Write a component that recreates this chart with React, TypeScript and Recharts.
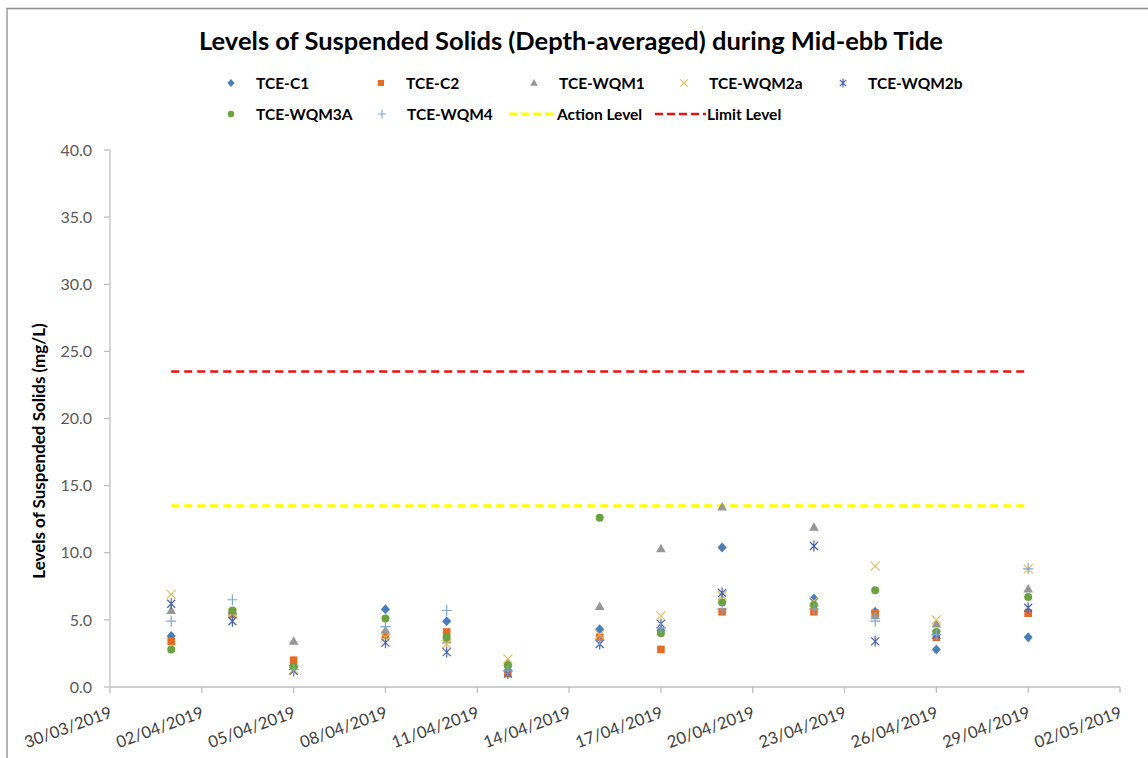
import React from 'react';
import { ScatterChart, Scatter, XAxis, YAxis, ReferenceLine } from 'recharts';

// sampling dates (dd/mm/yyyy)
const sampleDates = [
  '01/04/2019', '03/04/2019', '05/04/2019', '08/04/2019', '10/04/2019', '12/04/2019', '15/04/2019',
  '17/04/2019', '19/04/2019', '22/04/2019', '24/04/2019', '26/04/2019', '29/04/2019',
];

const tceC1 = [3.8, 5.5, 1.6, 5.8, 4.9, 1.2, 4.3, 4.2, 10.4, 6.6, 5.6, 2.8, 3.7];
const tceC2 = [3.4, 5.4, 2.0, 3.9, 4.1, 1.0, 3.7, 2.8, 5.6, 5.6, 5.5, 3.7, 5.5];
const tceWqm1 = [5.7, 5.6, 3.4, 4.2, 3.5, 1.8, 6.0, 10.3, 13.4, 11.9, 5.3, 4.7, 7.3];
const tceWqm2a = [6.9, 5.5, 1.3, 3.7, 3.2, 2.1, 3.9, 5.3, 6.8, 6.4, 9.0, 5.0, 8.8];
const tceWqm2b = [6.2, 4.9, 1.2, 3.3, 2.6, 1.0, 3.2, 4.7, 7.0, 10.5, 3.4, 3.9, 5.9];
const tceWqm3a = [2.8, 5.7, 1.5, 5.1, 3.7, 1.6, 12.6, 4.0, 6.3, 6.1, 7.2, 4.1, 6.7];
const tceWqm4 = [4.9, 6.5, 1.3, 4.5, 5.7, 1.2, 3.5, 4.4, 5.8, 5.8, 4.9, 3.9, 8.8];

const actionLevel = 13.5;
const limitLevel = 23.5;
const levelStart = '01/04/2019';
const levelEnd = '29/04/2019';

const xTickLabels = [
  '30/03/2019', '02/04/2019', '05/04/2019', '08/04/2019', '11/04/2019', '14/04/2019',
  '17/04/2019', '20/04/2019', '23/04/2019', '26/04/2019', '29/04/2019', '02/05/2019',
];
const yTicks = [0, 5, 10, 15, 20, 25, 30, 35, 40];

const FONT = 'Lato, "Open Sans", sans-serif';

const toDay = (s: string) => {
  const [d, m, y] = s.split('/').map(Number);
  return Date.UTC(y, m - 1, d) / 86400000;
};

const fmtDay = (n: number) => {
  const dt = new Date(Math.round(n) * 86400000);
  const dd = String(dt.getUTCDate()).padStart(2, '0');
  const mm = String(dt.getUTCMonth() + 1).padStart(2, '0');
  return `${dd}/${mm}/${dt.getUTCFullYear()}`;
};

type Kind = 'diamond' | 'square' | 'triangle' | 'x' | 'star' | 'circle' | 'plus';

function Marker({ kind, cx, cy, color, k = 1 }: { kind: Kind; cx: number; cy: number; color: string; k?: number }) {
  const p = (v: number) => v * k;
  switch (kind) {
    case 'diamond':
      return <path d={`M${cx},${cy - p(5)}L${cx + p(4.5)},${cy}L${cx},${cy + p(5)}L${cx - p(4.5)},${cy}Z`} fill={color} />;
    case 'square':
      return <rect x={cx - p(3.8)} y={cy - p(3.8)} width={p(7.6)} height={p(7.6)} fill={color} />;
    case 'triangle':
      return <path d={`M${cx},${cy - p(5)}L${cx + p(4.8)},${cy + p(3.5)}L${cx - p(4.8)},${cy + p(3.5)}Z`} fill={color} />;
    case 'circle':
      return <circle cx={cx} cy={cy} r={p(4)} fill={color} />;
    case 'x':
      return (
        <path d={`M${cx - p(4.5)},${cy - p(4.5)}L${cx + p(4.5)},${cy + p(4.5)}M${cx + p(4.5)},${cy - p(4.5)}L${cx - p(4.5)},${cy + p(4.5)}`}
          stroke={color} strokeWidth={1.2} fill="none" />
      );
    case 'star':
      return (
        <path d={`M${cx - p(4)},${cy - p(4)}L${cx + p(4)},${cy + p(4)}M${cx + p(4)},${cy - p(4)}L${cx - p(4)},${cy + p(4)}M${cx},${cy - p(5.5)}L${cx},${cy + p(5.5)}`}
          stroke={color} strokeWidth={1.2} fill="none" />
      );
    case 'plus':
      return (
        <path d={`M${cx - p(5)},${cy}L${cx + p(5)},${cy}M${cx},${cy - p(5.5)}L${cx},${cy + p(5.5)}`}
          stroke={color} strokeWidth={1.2} fill="none" />
      );
  }
  return null;
}

const series: { name: string; values: number[]; kind: Kind; color: string }[] = [
  { name: 'TCE-C1', values: tceC1, kind: 'diamond', color: '#4A7EBB' },
  { name: 'TCE-C2', values: tceC2, kind: 'square', color: '#E46C25' },
  { name: 'TCE-WQM1', values: tceWqm1, kind: 'triangle', color: '#969696' },
  { name: 'TCE-WQM2a', values: tceWqm2a, kind: 'x', color: '#E8BE5A' },
  { name: 'TCE-WQM2b', values: tceWqm2b, kind: 'star', color: '#4A62A8' },
  { name: 'TCE-WQM3A', values: tceWqm3a, kind: 'circle', color: '#6AA23E' },
  { name: 'TCE-WQM4', values: tceWqm4, kind: 'plus', color: '#7FA6D6' },
];

const XTick = (props: any) => {
  const { x, y, payload } = props;
  const ax = x + 3;
  const ay = y + 22;
  return (
    <text x={ax} y={ay} textAnchor="end" transform={`rotate(-20, ${ax}, ${ay})`}
      fontSize={16.5} fill="#404040" fontFamily={FONT}>
      {fmtDay(payload.value)}
    </text>
  );
};

// legend layout
const legendRow1X = [231, 381, 534, 684, 843];
const legendRow2X = [231, 382];
const LEG_TXT = { fontSize: 15.5, fontWeight: 'bold' as const, fontFamily: FONT, fill: '#000' };

export default function App() {
  const xDomain = [toDay(xTickLabels[0]), toDay(xTickLabels[xTickLabels.length - 1])];
  const xTicks = xTickLabels.map(toDay);
  const lx1 = toDay(levelStart);
  const lx2 = toDay(levelEnd);

  return (
    <div style={{ position: 'fixed', left: 0, top: 0, width: 1148, height: 758, background: '#fff', overflow: 'hidden' }}>
      <ScatterChart width={1148} height={758} margin={{ top: 150, right: 28, bottom: 11, left: 50 }}>
        <XAxis type="number" dataKey="x" domain={xDomain} ticks={xTicks} interval={0}
          height={60} tick={<XTick />} tickSize={6}
          axisLine={{ stroke: '#BFBFBF', strokeWidth: 1.3 }} tickLine={{ stroke: '#BFBFBF', strokeWidth: 1.3 }} />
        <YAxis type="number" dataKey="y" domain={[0, 40]} ticks={yTicks} interval={0} width={60}
          tickFormatter={(v: number) => v.toFixed(1)} tickSize={6} tickMargin={12}
          tick={{ fontSize: 16, fill: '#595959', fontFamily: FONT }}
          axisLine={{ stroke: '#BFBFBF', strokeWidth: 1.3 }} tickLine={{ stroke: '#BFBFBF', strokeWidth: 1.3 }} />
        <ReferenceLine segment={[{ x: lx1, y: actionLevel }, { x: lx2, y: actionLevel }]}
          stroke="#FFFF00" strokeWidth={3} strokeDasharray="8 5" />
        <ReferenceLine segment={[{ x: lx1, y: limitLevel }, { x: lx2, y: limitLevel }]}
          stroke="#EE1111" strokeWidth={2.5} strokeDasharray="8 5" />
        {series.map((s) => (
          <Scatter key={s.name} name={s.name}
            data={sampleDates.map((d, i) => ({ x: toDay(d), y: s.values[i] }))}
            isAnimationActive={false}
            shape={(p: any) => <Marker kind={s.kind} cx={p.cx} cy={p.cy} color={s.color} />} />
        ))}
      </ScatterChart>

      <svg width={1148} height={758} style={{ position: 'absolute', left: 0, top: 0, pointerEvents: 'none' }}>
        <path d="M7,758L7,8.5L1148,8.5" stroke="#8C8C8C" strokeWidth={1.3} fill="none" />
        <text x={571} y={50} textAnchor="middle" fontSize={25.5} fontWeight="bold" fontFamily={FONT} fill="#000">
          Levels of Suspended Solids (Depth-averaged) during Mid-ebb Tide
        </text>
        {series.slice(0, 5).map((s, i) => (
          <g key={s.name}>
            <Marker kind={s.kind} cx={legendRow1X[i]} cy={83} color={s.color} k={0.8} />
            <text x={legendRow1X[i] + 25} y={89} {...LEG_TXT}>{s.name}</text>
          </g>
        ))}
        {series.slice(5).map((s, i) => (
          <g key={s.name}>
            <Marker kind={s.kind} cx={legendRow2X[i]} cy={114} color={s.color} k={0.8} />
            <text x={legendRow2X[i] + 25} y={120} {...LEG_TXT}>{s.name}</text>
          </g>
        ))}
        <line x1={509} y1={114} x2={556} y2={114} stroke="#FFFF00" strokeWidth={3} strokeDasharray="8 4" />
        <text x={557} y={120} {...LEG_TXT}>Action Level</text>
        <line x1={655} y1={114} x2={706} y2={114} stroke="#EE1111" strokeWidth={2.5} strokeDasharray="8 4" />
        <text x={707} y={120} {...LEG_TXT}>Limit Level</text>
        <text x={45} y={451} textAnchor="middle" fontSize={17} fontWeight="bold" fontFamily={FONT}
          transform="rotate(-90, 45, 451)">
          Levels of Suspended Solids (mg/L)
        </text>
      </svg>
    </div>
  );
}
